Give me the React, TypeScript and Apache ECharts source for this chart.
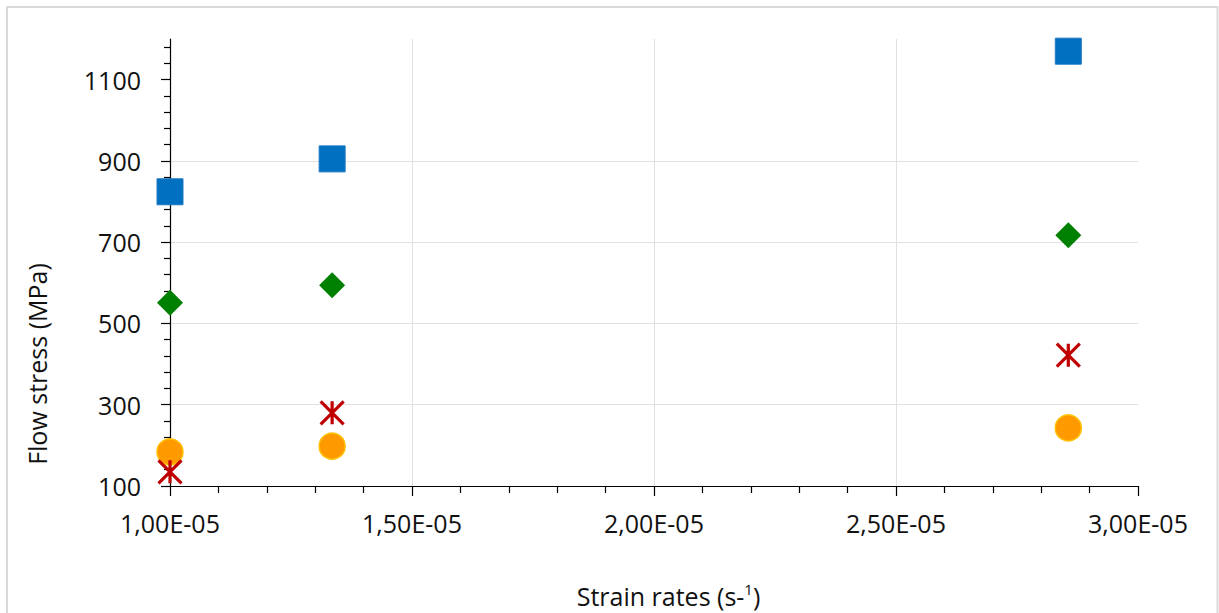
import React, { useEffect, useRef } from "react";
import * as echarts from "echarts";

// Strain rates (s^-1) for the three test groups
const strainRates = [1.0e-5, 1.335e-5, 2.856e-5];
// Flow stress (MPa) per series
const blueSquares = [824, 905, 1170];
const greenDiamonds = [551, 594, 717];
const orangeCircles = [184, 198, 243];
const redStars = [135, 280, 422];

const xMin = 1.0e-5;
const xMax = 3.0e-5;
const xStep = 0.5e-5;
const yMin = 100;
const yMax = 1200;
const yStep = 200;
const yMajorTicks: number[] = [];
for (let v = yMin; v <= 1100; v += yStep) yMajorTicks.push(v);

const FONT = "Open Sans";

const fmtSci = (v: number) => {
  const [m, e] = v.toExponential(2).split("e");
  const ev = parseInt(e, 10);
  return m.replace(".", ",") + "E" + (ev < 0 ? "-" : "+") + String(Math.abs(ev)).padStart(2, "0");
};

const pairs = (ys: number[]) => strainRates.map((x, i) => [x, ys[i]]);

export default function App() {
  const ref = useRef<HTMLDivElement>(null);
  useEffect(() => {
    if (!ref.current) return;
    const chart = echarts.init(ref.current, undefined, { renderer: "svg" });
    chart.setOption({
      animation: false,
      backgroundColor: "#ffffff",
      grid: { left: 170, right: 81, top: 39, bottom: 127, containLabel: false },
      xAxis: {
        type: "value",
        min: xMin,
        max: xMax,
        interval: xStep,
        axisLine: { show: true, lineStyle: { color: "#000", width: 1.2 } },
        axisTick: { show: true, inside: false, length: 10, lineStyle: { color: "#000", width: 1.2 } },
        minorTick: { show: true, splitNumber: 5, length: 7, lineStyle: { color: "#000", width: 1.2 } },
        axisLabel: {
          formatter: fmtSci,
          margin: 24,
          fontFamily: FONT,
          fontSize: 25,
          color: "#111",
        },
        splitLine: { show: true, showMinLine: false, showMaxLine: false, lineStyle: { color: "#e0e0e0", width: 1 } },
      },
      yAxis: {
        type: "value",
        min: yMin,
        max: yMax,
        interval: yStep,
        axisLine: { show: true, lineStyle: { color: "#000", width: 1.2 } },
        axisTick: { show: true, length: 9, customValues: yMajorTicks, lineStyle: { color: "#000", width: 1.2 } },
        minorTick: { show: true, splitNumber: 5, length: 6, lineStyle: { color: "#000", width: 1.2 } },
        axisLabel: {
          showMaxLabel: false,
          formatter: (v: number) => String(v),
          margin: 29,
          fontFamily: FONT,
          fontSize: 25,
          color: "#111",
        },
        splitLine: { show: true, showMinLine: false, showMaxLine: false, lineStyle: { color: "#e0e0e0", width: 1 } },
      },
      graphic: [
        {
          type: "rect",
          z: -10,
          silent: true,
          shape: { x: 7, y: 7, width: 1210.5, height: 620 },
          style: { fill: "none", stroke: "#d9d9d9", lineWidth: 2 },
        },
        {
          type: "text",
          x: 668.5,
          y: 596,
          style: {
            text: "{a|Strain rates (s-}{b|1}{a|)}",
            align: "center",
            verticalAlign: "middle",
            fill: "#111",
            rich: {
              a: { fontFamily: FONT, fontSize: 25, fill: "#111", lineHeight: 30 },
              b: { fontFamily: FONT, fontSize: 15, fill: "#111", verticalAlign: "top", lineHeight: 30, padding: [0, 0, 14, 0] },
            },
          },
        },
        {
          type: "text",
          x: 36.7,
          y: 364,
          rotation: Math.PI / 2,
          style: {
            text: "Flow stress (MPa)",
            align: "center",
            verticalAlign: "middle",
            fontFamily: FONT,
            fontSize: 25,
            fill: "#111",
          },
        },
      ],
      series: [
        {
          type: "scatter",
          data: pairs(blueSquares),
          symbol: "rect",
          symbolSize: 26,
          itemStyle: { color: "#0070C0", borderColor: "#1f78c1", borderWidth: 1, opacity: 1 },
        },
        {
          type: "scatter",
          data: pairs(greenDiamonds),
          symbol: "diamond",
          symbolSize: 26,
          itemStyle: { color: "#008000", opacity: 1 },
        },
        {
          type: "scatter",
          data: pairs(orangeCircles),
          symbol: "circle",
          symbolSize: 26,
          itemStyle: { color: "#FF9900", borderColor: "#FFC000", borderWidth: 1.5, opacity: 1 },
        },
        {
          type: "scatter",
          data: pairs(redStars),
          symbol: "path://M0,0L10,10M10,0L0,10M5,0L5,10",
          symbolSize: 23,
          itemStyle: { color: "none", borderColor: "#C00000", borderWidth: 3.2, opacity: 1 },
        },
      ],
    });
    return () => chart.dispose();
  }, []);
  return (
    <div
      ref={ref}
      style={{ position: "fixed", left: 0, top: 0, width: 1219, height: 613, background: "#fff" }}
    />
  );
}
